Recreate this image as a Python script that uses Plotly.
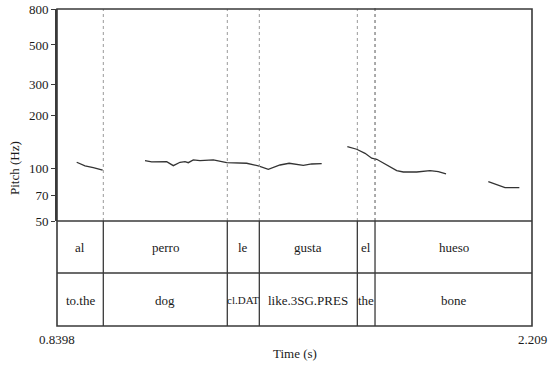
import plotly.graph_objects as go

# ---- data ----
t_start, t_end = 0.8398, 2.209
pitch_segments_t = [
    [0.8966, 0.9205, 0.9444, 0.9715],
    [1.0935, 1.1128, 1.1560, 1.1751, 1.1944, 1.2088, 1.2183, 1.2327, 1.2520, 1.2904,
     1.3290, 1.3673, 1.3866, 1.4201, 1.4489, 1.4826, 1.5090, 1.5498, 1.5740, 1.6028],
    [1.6767, 1.7037, 1.7277, 1.7470, 1.7614, 1.7902, 1.8190, 1.8381, 1.8767, 1.9150, 1.9390, 1.9612],
    [2.0831, 2.1073, 2.1312, 2.1725],
]
pitch_segments_hz = [
    [107.8, 102.7, 100.4, 97.4],
    [110.0, 108.2, 108.7, 103.1, 107.8, 108.7, 107.2, 111.1, 110.0, 111.1,
     107.2, 106.4, 106.4, 102.7, 98.3, 104.0, 106.4, 103.6, 105.4, 105.8],
    [132.2, 127.8, 121.2, 113.6, 112.1, 104.0, 96.6, 94.9, 94.9, 96.6, 95.3, 92.5],
    [83.6, 80.1, 77.3, 77.3],
]
boundaries = [0.9733, 1.3307, 1.4230, 1.7055, 1.7565]
words = ["al", "perro", "le", "gusta", "el", "hueso"]
glosses = ["to.the", "dog", "cl.DAT", "like.3SG.PRES", "the", "bone"]
y_ticks = [50, 70, 100, 200, 300, 500, 800]

# ---- figure ----
FONT = "Liberation Serif, Times New Roman, serif"
LINE = "#3a3a3a"
TXT = "#1a1a1a"
H_PLOT = 317
pitch_bottom = (326 - 221) / H_PLOT
tier_mid = (326 - 273) / H_PLOT

fig = go.Figure()
for ts, hs in zip(pitch_segments_t, pitch_segments_hz):
    fig.add_trace(go.Scatter(x=ts, y=hs, mode="lines",
                             line=dict(color="#333333", width=1.3),
                             showlegend=False, hoverinfo="skip"))

shapes = []
edges = [t_start] + boundaries + [t_end]
for i, b in enumerate(boundaries):
    dark = (i == len(boundaries) - 1)
    shapes.append(dict(type="line", xref="x", yref="paper", x0=b, x1=b,
                       y0=pitch_bottom, y1=1 + (4 / H_PLOT if dark else 0),
                       line=dict(color="#666666" if dark else "#999999",
                                 width=1.1 if dark else 1, dash="dot")))
    shapes.append(dict(type="line", xref="x", yref="paper", x0=b, x1=b,
                       y0=0, y1=pitch_bottom, line=dict(color=LINE, width=1.3)))
# frame
shapes.append(dict(type="rect", xref="paper", yref="paper", x0=0, x1=1, y0=0, y1=1,
                   line=dict(color=LINE, width=1.6)))
for yy in [pitch_bottom, tier_mid]:
    shapes.append(dict(type="line", xref="paper", yref="paper", x0=0, x1=1, y0=yy, y1=yy,
                       line=dict(color=LINE, width=1.3)))

annotations = []
tier1_y = (326 - 247) / H_PLOT
tier2_y = (326 - 300) / H_PLOT
for i in range(len(words)):
    cx = (edges[i] + edges[i + 1]) / 2
    annotations.append(dict(x=cx, y=tier1_y, xref="x", yref="paper", text=words[i],
                            xanchor="center", yanchor="middle",
                            showarrow=False, font=dict(family=FONT, size=13, color=TXT)))
    annotations.append(dict(x=cx, y=tier2_y, xref="x", yref="paper", text=glosses[i],
                            xanchor="center", yanchor="middle", showarrow=False,
                            font=dict(family=FONT, size=11 if glosses[i] == "cl.DAT" else 13,
                                      color=TXT)))
annotations.append(dict(x=0, y=-13 / H_PLOT, xref="paper", yref="paper", text=f"{t_start}",
                        xanchor="center", yanchor="middle", showarrow=False,
                        font=dict(family=FONT, size=13, color=TXT)))
annotations.append(dict(x=1, y=-13 / H_PLOT, xref="paper", yref="paper", text=f"{t_end}",
                        xanchor="center", yanchor="middle", showarrow=False,
                        font=dict(family=FONT, size=13, color=TXT)))
annotations.append(dict(x=0.5, y=-28 / H_PLOT, xref="paper", yref="paper", text="Time (s)",
                        xanchor="center", yanchor="middle", showarrow=False,
                        font=dict(family=FONT, size=13, color=TXT)))
annotations.append(dict(x=0, y=(326 - 168) / H_PLOT, xref="paper", yref="paper",
                        text="Pitch (Hz)", textangle=-90, xshift=-43,
                        xanchor="center", yanchor="middle", showarrow=False,
                        font=dict(family=FONT, size=13, color=TXT)))

fig.update_layout(
    width=550, height=366,
    margin=dict(l=57, r=18, t=9, b=40),
    paper_bgcolor="white", plot_bgcolor="white",
    xaxis=dict(range=[t_start, t_end], showgrid=False, zeroline=False,
               showticklabels=False, ticks="", showline=False, automargin=False),
    yaxis=dict(type="log", range=[1.69897, 2.90309], domain=[pitch_bottom, 1],
               tickvals=y_ticks, ticktext=[str(v) for v in y_ticks],
               ticks="outside", ticklen=4, tickcolor=LINE, tickwidth=1.3,
               showgrid=False, zeroline=False, showline=True, linecolor=LINE, linewidth=1.6,
               tickfont=dict(family=FONT, size=13, color=TXT), automargin=False),
    shapes=shapes, annotations=annotations,
)
fig.write_html("out.html", config={"displayModeBar": False},
               post_script="document.body.style.margin='0';")
